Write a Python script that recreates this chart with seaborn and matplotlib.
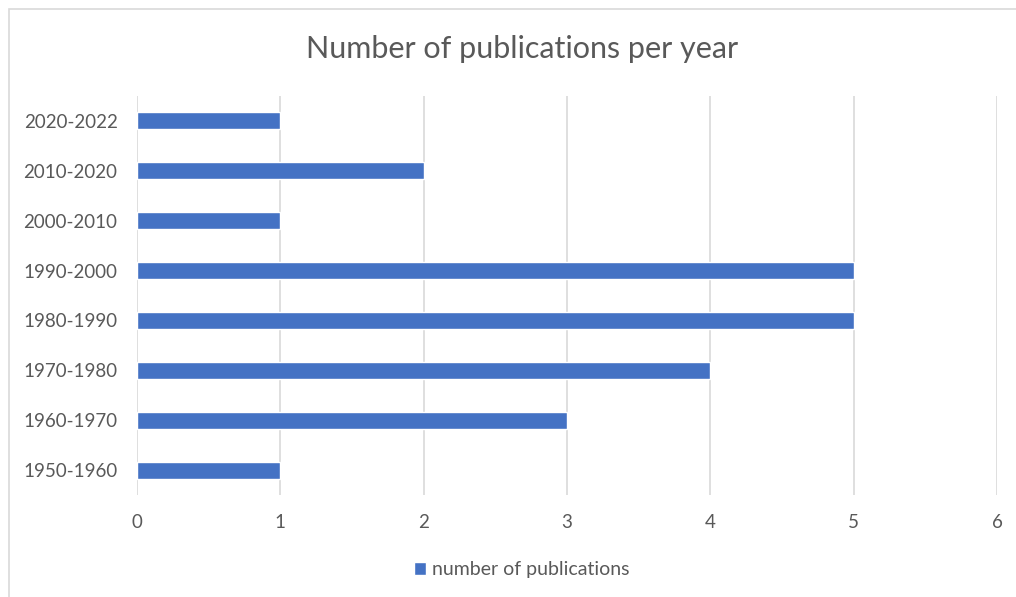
import matplotlib
matplotlib.use("Agg")
import matplotlib.pyplot as plt
import seaborn as sns
import pandas as pd
from matplotlib.patches import Rectangle

periods = ["2020-2022", "2010-2020", "2000-2010", "1990-2000",
           "1980-1990", "1970-1980", "1960-1970", "1950-1960"]
counts = [1, 2, 1, 5, 5, 4, 3, 1]
series_name = "number of publications"
title = "Number of publications per year"
x_ticks = [0, 1, 2, 3, 4, 5, 6]

sns.set_theme(style="white")
plt.rcParams["font.family"] = ["Lato", "DejaVu Sans"]

TEXT = "#595959"
GRID = "#D9D9D9"
BAR = "#4472C4"

fig = plt.figure(figsize=(10.16, 5.97), dpi=100)
fig.patch.set_facecolor("white")
# chart-area border
fig.patches.append(Rectangle((9 / 1016, -0.1), 1.2, 1 - 9 / 597 + 0.1,
                             transform=fig.transFigure, fill=False,
                             edgecolor=GRID, linewidth=1.2))

ax = fig.add_axes([137 / 1016, 1 - 495 / 597, 860 / 1016, 399 / 597])
df = pd.DataFrame({"period": periods, "count": counts})
sns.barplot(data=df, x="count", y="period", order=periods, orient="h",
            color=BAR, width=0.34, saturation=1, ax=ax, label=series_name)

ax.set_xlim(0, 6)
ax.set_xticks(x_ticks)
ax.set_xticklabels([str(t) for t in x_ticks])
ax.set_xlabel("")
ax.set_ylabel("")
ax.grid(axis="x", color=GRID, linewidth=1.2)
ax.grid(axis="y", visible=False)
ax.set_axisbelow(True)
for s in ax.spines.values():
    s.set_visible(False)
ax.tick_params(axis="both", length=0, labelsize=13.5, colors=TEXT)
ax.tick_params(axis="y", pad=14)
ax.tick_params(axis="x", pad=14)

fig.text(522 / 1016, 1 - 49 / 597, title, ha="center", va="center",
         fontsize=22, color=TEXT)

leg = ax.legend(loc="center", bbox_to_anchor=(522 / 1016, 1 - 570 / 597),
                bbox_transform=fig.transFigure, frameon=False, fontsize=14,
                handlelength=0.6, handleheight=0.6, handletextpad=0.35)
for t in leg.get_texts():
    t.set_color(TEXT)

fig.savefig("out.png", dpi=100)
